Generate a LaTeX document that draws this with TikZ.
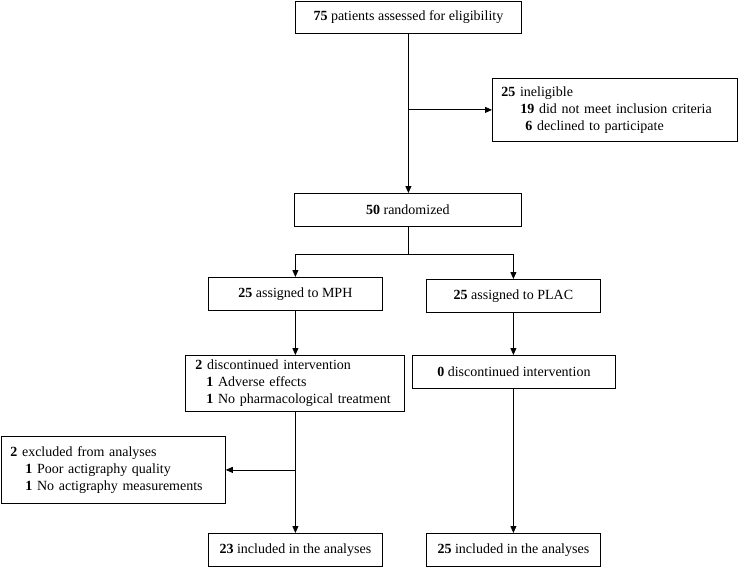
\documentclass[tikz,border=0pt]{standalone}
\usepackage{fontspec}
\setmainfont{Liberation Serif}
\usetikzlibrary{arrows.meta,calc}
\begin{document}
\begin{tikzpicture}[x=1pt,y=1pt]
\tikzset{
  box/.style={draw, line width=0.8pt, inner sep=0pt, anchor=north west, font=\fontsize{14}{17}\selectfont},
  multibox/.style={box, align=left},
  arr/.style={line width=0.8pt, -{Triangle[length=7pt,width=6pt]}},
  ln/.style={line width=0.8pt}
}
\fill[white] (0,0) rectangle (738,-567);
\useasboundingbox (0,0) rectangle (738,-567);

\node[box, minimum width=226pt, minimum height=32pt] (A) at (295,-1) {\textbf{75} patients assessed for eligibility};
\node[multibox, minimum width=245pt, minimum height=63pt, text width=227pt, inner xsep=9pt] (B) at (492,-78)
  {\textbf{25} ineligible\\\hspace*{19pt}\textbf{19} did not meet inclusion criteria\\\hspace*{24pt}\textbf{6} declined to participate};
\node[box, minimum width=227pt, minimum height=33pt] (C) at (294,-193) {\textbf{50} randomized};
\node[box, minimum width=174pt, minimum height=33pt] (D) at (208,-277) {\textbf{25} assigned to MPH};
\node[box, minimum width=174pt, minimum height=33pt] (E) at (426,-279) {\textbf{25} assigned to PLAC};
\node[multibox, minimum width=219pt, minimum height=56pt, text width=199pt, inner xsep=10pt] (F) at (185,-355)
  {\textbf{2} discontinued intervention\\\hspace*{11pt}\textbf{1} Adverse effects\\\hspace*{11pt}\textbf{1} No pharmacological treatment};
\node[box, minimum width=203pt, minimum height=33pt] (G) at (412,-355) {\textbf{0} discontinued intervention};
\node[multibox, minimum width=224pt, minimum height=67pt, text width=206pt, inner xsep=9pt] (H) at (1,-436)
  {\textbf{2} excluded from analyses\\\hspace*{15pt}\textbf{1} Poor actigraphy quality\\\hspace*{15pt}\textbf{1} No actigraphy measurements};
\node[box, minimum width=174pt, minimum height=33pt] (I) at (208,-533) {\textbf{23} included in the analyses};
\node[box, minimum width=174pt, minimum height=33pt] (J) at (426,-533) {\textbf{25} included in the analyses};

% connectors
\draw[arr] (A.south) -- (A.south |- C.north);
\coordinate (b1) at (A.south |- B.west);
\draw[arr] (b1) -- (B.west);

\coordinate (s) at ($(C.south)+(0,-28)$);
\draw[ln] (C.south) -- (s);
\draw[arr] (s) -| (D.north);
\draw[arr] (s) -| (E.north);

\draw[arr] (D.south) -- (D.south |- F.north);
\draw[arr] (E.south) -- (E.south |- G.north);

\draw[arr] (I.north |- F.south) -- (I.north);
\coordinate (h) at (I.north |- H.east);
\draw[arr] (h) -- (H.east);

\draw[arr] (J.north |- G.south) -- (J.north);
\end{tikzpicture}
\end{document}
